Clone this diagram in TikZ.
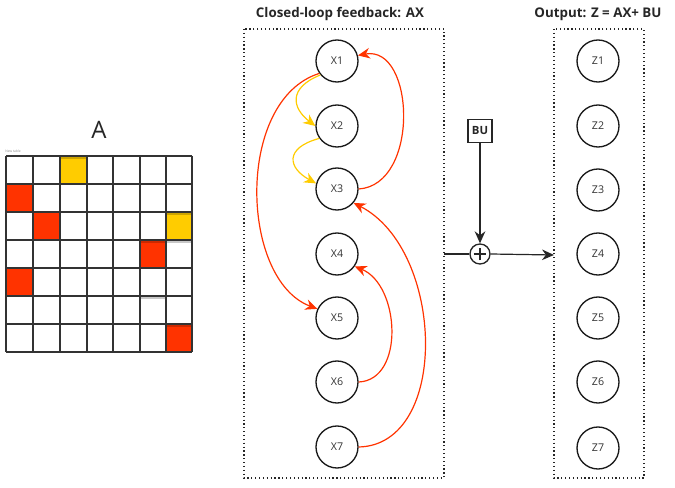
\documentclass[tikz,border=0pt]{standalone}
\usepackage{fontspec}
\setmainfont{Open Sans}
\usetikzlibrary{arrows.meta}
\definecolor{fbred}{HTML}{FF3300}
\definecolor{fbyel}{HTML}{FFCC00}
\definecolor{dred}{HTML}{CC2900}
\definecolor{dyel}{HTML}{CCA300}
\definecolor{lgry}{HTML}{C8C8C8}
\tikzset{
  st/.style={circle,draw=black!90,line width=1pt,minimum size=31.5pt,inner sep=0pt,font=\fontsize{8}{9}\selectfont,text=black!80},
  frame/.style={draw=black!85,dotted,line width=0.9pt},
  ttl/.style={font=\bfseries\fontsize{10}{12}\selectfont,text=black!85},
  redarr/.style={draw=fbred,line width=0.9pt,-{Stealth[length=9pt,width=8pt]}},
  yelarr/.style={draw=fbyel,line width=0.9pt,-{Stealth[length=9pt,width=8pt]}},
  blkarr/.style={draw=black!85,line width=0.9pt,-{Stealth[length=9pt,width=8pt]}},
  gridline/.style={draw=black!80,line width=1.05pt},
}
\begin{document}
\begin{tikzpicture}[x=0.75pt,y=-0.75pt]
\useasboundingbox (0,0) rectangle (675,488);
% ---- matrix A ----
\node[font=\fontsize{18}{20}\selectfont,text=black!85] (Alabel) at (99,130) {A};
\node[font=\fontsize{2.5}{3}\selectfont,text=black!45,anchor=west,inner sep=0pt] (tbl) at (5,151) {New table};
\fill[fbyel] (60,156) rectangle (87,184);
\fill[dyel] (60,156) rectangle (87,159.5);
\fill[fbred] (6,184) rectangle (33,212);
\fill[fbred] (33,212) rectangle (60,240);
\fill[fbyel] (166,212) rectangle (192,240);
\fill[dyel] (166,212) rectangle (192,215.5);
\fill[fbred] (140,240) rectangle (166,268);
\fill[dred] (140,240) rectangle (166,243.5);
\fill[lgry] (166,240) rectangle (192,243.5);
\fill[fbred] (6,268) rectangle (33,296);
\fill[lgry] (140,296) rectangle (166,299.5);
\fill[fbred] (166,324) rectangle (192,352);
\fill[dred] (166,324) rectangle (192,327.5);
\foreach \xx in {6,33,60,87,113,140,166,192} {\draw[gridline] (\xx,156) -- (\xx,352);}
\foreach \yy in {156,184,212,240,268,296,324,352} {\draw[gridline] (6,\yy) -- (192,\yy);}
% ---- middle frame ----
\node[ttl] (t1) at (340,14) {Closed-loop feedback: AX};
\draw[frame] (244,29) rectangle (444,478);
\node[st] (X1) at (337,61) {X1};
\node[st] (X2) at (337,126) {X2};
\node[st] (X3) at (337,189) {X3};
\node[st] (X4) at (337,254) {X4};
\node[st] (X5) at (337,318) {X5};
\node[st] (X6) at (337,382) {X6};
\node[st] (X7) at (337,447) {X7};
% feedback arrows
\draw[yelarr] (X1.220) .. controls (288,88) and (292,108) .. (X2.west);
\draw[yelarr] (X2.215) .. controls (284,148) and (288,168) .. (X3.165);
\draw[redarr] (X1.215) .. controls (235,100) and (240,280) .. (X5.155);
\draw[redarr] (X3.east) .. controls (420,185) and (415,45) .. (X1.15);
\draw[redarr] (X6.east) .. controls (405,380) and (400,285) .. (X4.-35);
\draw[redarr] (X7.east) .. controls (450,445) and (445,250) .. (X3.-40);
% ---- BU and sum ----
\node[draw=black!85,line width=1pt,minimum width=18pt,minimum height=17pt,inner sep=1pt,font=\bfseries\fontsize{8.5}{9}\selectfont,text=black!85] (BU) at (480,131) {BU};
\node[circle,draw=black!85,line width=1pt,minimum size=15pt,inner sep=0pt] (sum) at (480,254) {};
\draw[black!85,line width=1pt] ([yshift=-4.8pt]sum.center) -- ([yshift=4.8pt]sum.center) ([xshift=-4.8pt]sum.center) -- ([xshift=4.8pt]sum.center);
\coordinate (fin) at (444,254);
\coordinate (fout) at (554,255);
\draw[black!85,line width=0.9pt] (fin) -- (sum.west);
\draw[blkarr] (BU.south) -- (sum.north);
\draw[blkarr] (sum.east) -- (fout);
% ---- output frame ----
\node[ttl] (t2) at (598,14) {Output: Z = AX+ BU};
\draw[frame] (554,29) rectangle (644,478);
\node[st] (Z1) at (598,61) {Z1};
\node[st] (Z2) at (598,126) {Z2};
\node[st] (Z3) at (598,190) {Z3};
\node[st] (Z4) at (598,254) {Z4};
\node[st] (Z5) at (598,318) {Z5};
\node[st] (Z6) at (598,382) {Z6};
\node[st] (Z7) at (598,448) {Z7};
\end{tikzpicture}
\end{document}
